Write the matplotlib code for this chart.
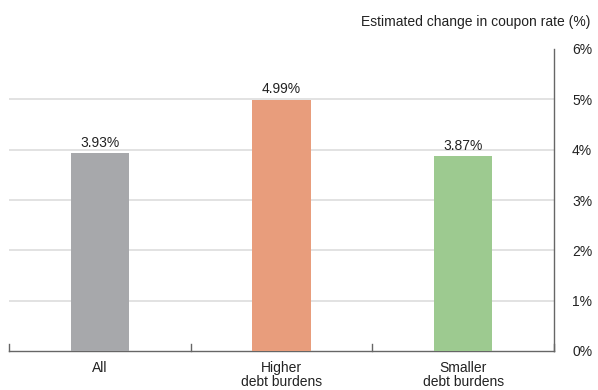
import numpy as np
import matplotlib.pyplot as plt

categories = ["All", "Higher\ndebt burdens", "Smaller\ndebt burdens"]
values = [3.93, 4.99, 3.87]
colors = ["#a7a8ab", "#e89d7c", "#9dca90"]
y_ticks = [0, 1, 2, 3, 4, 5, 6]

plt.rcParams['font.family'] = ['Liberation Sans', 'DejaVu Sans']

fig = plt.figure(figsize=(5.98, 3.9), dpi=100)
ax = fig.add_axes([9 / 598, 1 - 351 / 390, (554 - 9) / 598, (351 - 49) / 390])

x = np.arange(len(categories))
ax.bar(x, values, width=0.32, color=colors, zorder=3)
for xi, v in zip(x, values):
    ax.text(xi, v + 0.07, f"{v:.2f}%", ha="center", va="bottom", fontsize=10, color="#222222")

ax.set_xlim(-0.5, len(categories) - 0.5)
ax.set_ylim(0, 6)

# gridlines for 1%..5%
for t in y_ticks[1:-1]:
    ax.axhline(t, color="#dddddd", lw=1.2, zorder=1)

ax.yaxis.tick_right()
ax.set_yticks(y_ticks)
ax.set_yticklabels([f"{t}%" for t in y_ticks], fontsize=10, color="#222222")
ax.tick_params(axis="y", length=0, pad=13)

ax.set_xticks(x)
ax.set_xticklabels(categories, fontsize=10, color="#222222", linespacing=1.0)
ax.tick_params(axis="x", length=0, pad=7)
# small upward ticks at category boundaries
for b in np.arange(-0.5, len(categories), 1.0):
    ax.plot([b, b], [0, 0.13], color="#666666", lw=1, clip_on=False, zorder=4)

for side in ["top", "left"]:
    ax.spines[side].set_visible(False)
ax.spines["bottom"].set_color("#666666")
ax.spines["right"].set_color("#666666")
ax.spines["bottom"].set_linewidth(1)
ax.spines["right"].set_linewidth(1)

fig.text(590 / 598, 1 - 22 / 390, "Estimated change in coupon rate (%)", ha="right",
         va="center", fontsize=10, color="#222222")

fig.savefig("out.png", dpi=100)
